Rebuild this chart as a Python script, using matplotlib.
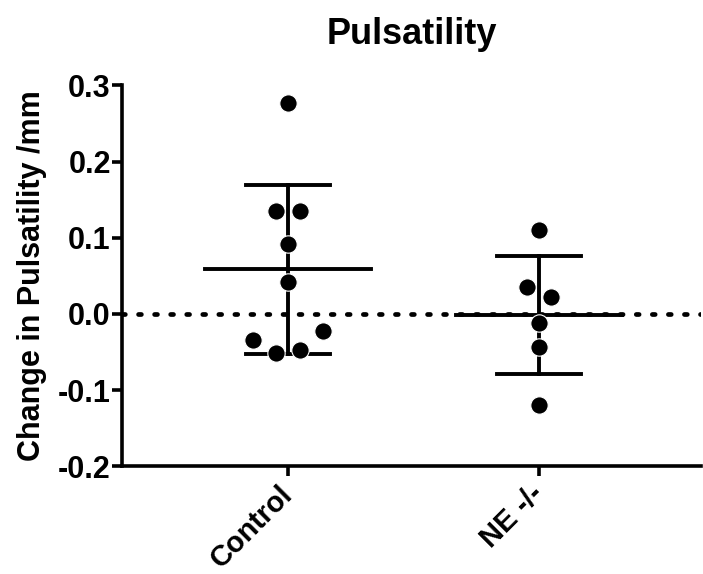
import numpy as np
import matplotlib.pyplot as plt
from matplotlib.ticker import FuncFormatter

plt.rcParams['font.family'] = ['Liberation Sans', 'DejaVu Sans']
plt.rcParams['font.weight'] = 'bold'

groups = ['Control', 'NE -/-']

# change in pulsatility per animal (mm)
control_vals = [0.277, 0.135, 0.135, 0.092, 0.042, -0.034, -0.022, -0.051, -0.047]
ne_vals = [0.110, 0.035, 0.022, -0.012, -0.043, -0.119]

# horizontal scatter offsets so overlapping points stay visible
control_jitter = [0.0, -0.047, 0.047, 0.0, 0.0, -0.14, 0.14, -0.047, 0.047]
ne_jitter = [0.0, -0.047, 0.047, 0.0, 0.0, 0.0]

yticks = [-0.2, -0.1, 0.0, 0.1, 0.2, 0.3]

fig = plt.figure(figsize=(7.03, 5.74), dpi=100)
ax = fig.add_axes([0.1735, 0.1875, 0.8235, 0.6637])

# zero reference line
ax.axhline(0, color='black', linestyle=(0, (0.6, 2.8)), linewidth=3.4,
           dash_capstyle='round', zorder=1)

for i, (vals, jit) in enumerate([(control_vals, control_jitter), (ne_vals, ne_jitter)]):
    vals = np.array(vals)
    mean = vals.mean()
    sd = vals.std(ddof=1)
    # mean line and SD whiskers
    ax.plot([i - 0.33, i + 0.33], [mean, mean], color='black', linewidth=2.8, zorder=2)
    ax.plot([i, i], [mean - sd, mean + sd], color='black', linewidth=2.8, zorder=2)
    for y in (mean - sd, mean + sd):
        ax.plot([i - 0.167, i + 0.167], [y, y], color='black', linewidth=2.8, zorder=2)
    ax.plot(i + np.array(jit), vals, 'o', color='black', markersize=12.5,
            markeredgecolor='white', markeredgewidth=0.8, zorder=3)

ax.set_xlim(-0.661, 1.645)
ax.set_ylim(-0.2, 0.3)
ax.set_xticks(range(len(groups)))
ax.set_xticklabels(groups, rotation=45, ha='right', va='center',
                   rotation_mode='anchor', fontsize=21, fontweight='bold')
ax.set_yticks(yticks)
ax.yaxis.set_major_formatter(FuncFormatter(lambda v, pos: f'{v:.1f}'.replace('\u2212', '-')))
for lbl in ax.get_yticklabels():
    lbl.set_fontsize(22)
    lbl.set_fontweight('bold')

for side in ('top', 'right'):
    ax.spines[side].set_visible(False)
for side in ('left', 'bottom'):
    ax.spines[side].set_linewidth(2.6)
ax.tick_params(axis='both', direction='out', length=7, width=2.6)
ax.tick_params(axis='y', pad=1)
ax.tick_params(axis='x', pad=10)

ax.set_ylabel('Change in Pulsatility /mm', fontsize=22, fontweight='bold', labelpad=8)
ax.set_title('Pulsatility', fontsize=26, fontweight='bold', pad=30)

fig.savefig('out.png', dpi=100)
